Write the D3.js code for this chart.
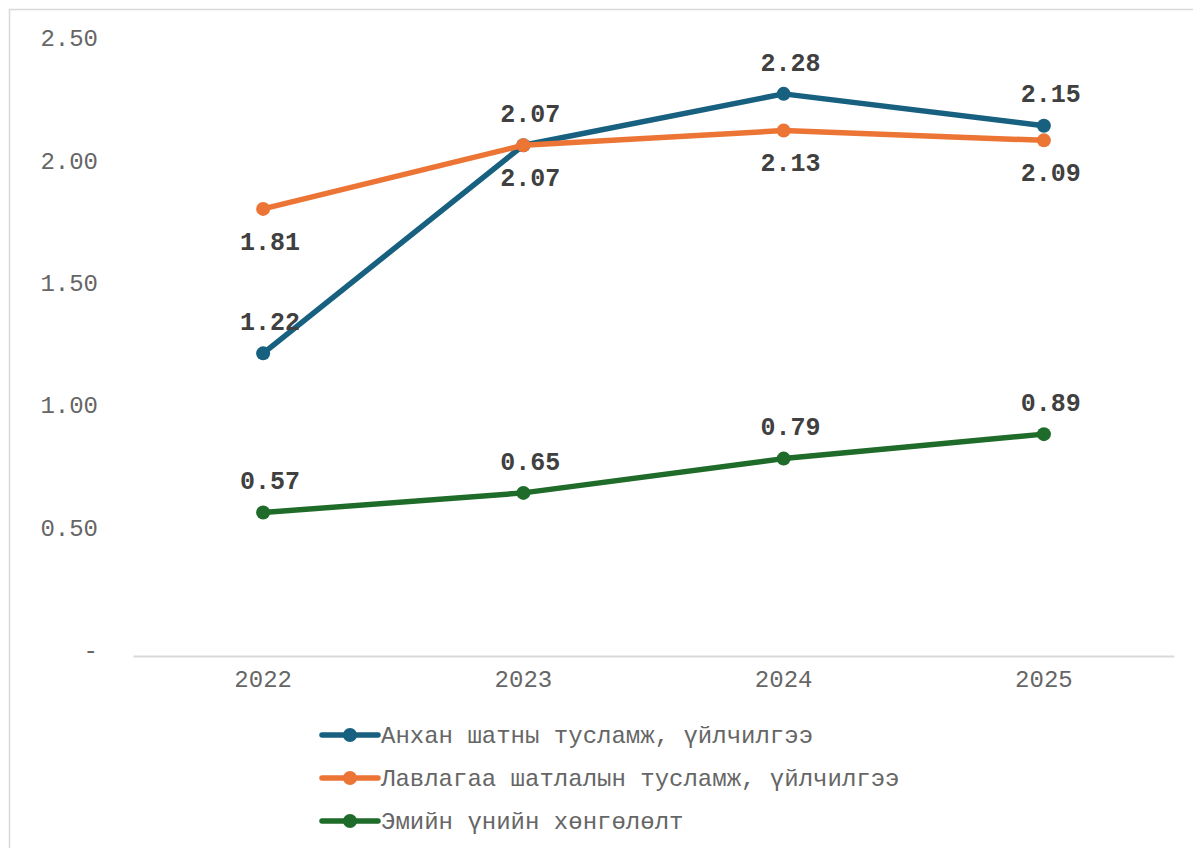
<!DOCTYPE html>
<html>
<head>
<meta charset="utf-8">
<script src="https://cdn.jsdelivr.net/npm/d3@7"></script>
<style>
  body { margin: 0; background: #fff; }
  svg { display: block; }
</style>
</head>
<body>
<div id="chart"></div>
<script>
// data
const years = ["2022", "2023", "2024", "2025"];
const seriesNames = [
  "Анхан шатны тусламж, үйлчилгээ",
  "Лавлагаа шатлалын тусламж, үйлчилгээ",
  "Эмийн үнийн хөнгөлөлт"
];
const primaryCare = [1.22, 2.07, 2.28, 2.15];
const referralCare = [1.81, 2.07, 2.13, 2.09];
const drugDiscount = [0.57, 0.65, 0.79, 0.89];
const yTicks = [0, 0.5, 1.0, 1.5, 2.0, 2.5];

const colors = ["#17607f", "#ec7434", "#1f6b2a"];
// label above (-1) or below (+1) the point
const labelSide = [-1, 1, -1];

const series = [primaryCare, referralCare, drugDiscount].map((vals, i) => ({
  name: seriesNames[i], color: colors[i], side: labelSide[i],
  values: vals.map((v, j) => ({ year: years[j], value: v }))
}));

const width = 1193, height = 848;
const svg = d3.select("#chart").append("svg")
  .attr("width", width)
  .attr("height", height);

// outer frame (only left and top edges are visible)
svg.append("rect")
  .attr("x", 9.5).attr("y", 9.5)
  .attr("width", 1200).attr("height", 900)
  .attr("fill", "none")
  .attr("stroke", "#d9d9d9")
  .attr("stroke-width", 1.5);

const x = d3.scaleBand().domain(years).range([133, 1174]);
const y = d3.scaleLinear().domain([0, 2.5]).range([652, 40]);

const font = "'Liberation Mono', 'Courier New', monospace";

// y axis labels (no line)
const yAxis = svg.append("g")
  .attr("transform", "translate(98,-2)")
  .call(d3.axisLeft(y).tickValues(yTicks).tickSize(0).tickPadding(0)
    .tickFormat(d => d === 0 ? "-" : d3.format(".2f")(d)));
yAxis.select(".domain").remove();
yAxis.selectAll("text")
  .attr("font-family", font)
  .attr("font-size", 24)
  .attr("fill", "#666");

// x axis
const xAxis = svg.append("g")
  .attr("transform", "translate(0,656)")
  .call(d3.axisBottom(x).tickSize(0).tickPadding(14));
xAxis.select(".domain").attr("stroke", "#d9d9d9").attr("stroke-width", 2);
xAxis.selectAll("text")
  .attr("font-family", font)
  .attr("font-size", 24)
  .attr("fill", "#666");

const cx = d => x(d.year) + x.bandwidth() / 2;
const line = d3.line().x(cx).y(d => y(d.value));

const g = svg.append("g");
series.forEach(s => {
  g.append("path")
    .datum(s.values)
    .attr("d", line)
    .attr("fill", "none")
    .attr("stroke", s.color)
    .attr("stroke-width", 5.5)
    .attr("stroke-linejoin", "round");
  g.selectAll(null)
    .data(s.values)
    .enter()
    .append("circle")
    .attr("cx", cx)
    .attr("cy", d => y(d.value))
    .attr("r", 7)
    .attr("fill", s.color);
});

// data labels on top
series.forEach(s => {
  svg.selectAll(null)
    .data(s.values)
    .enter()
    .append("text")
    .attr("x", d => cx(d) + 7)
    .attr("y", d => y(d.value) + s.side * 32)
    .attr("dy", "0.35em")
    .attr("text-anchor", "middle")
    .attr("font-family", font)
    .attr("font-size", 25)
    .attr("font-weight", "bold")
    .attr("fill", "#404040")
    .text(d => d3.format(".2f")(d.value));
});

// legend
const legend = svg.append("g").attr("transform", "translate(322,735)");
series.forEach((s, i) => {
  const row = legend.append("g").attr("transform", `translate(0,${i * 43})`);
  row.append("line")
    .attr("x1", 0).attr("x2", 56)
    .attr("stroke", s.color)
    .attr("stroke-width", 5.5)
    .attr("stroke-linecap", "round");
  row.append("circle").attr("cx", 28).attr("r", 7).attr("fill", s.color);
  row.append("text")
    .attr("x", 59)
    .attr("dy", "0.35em")
    .attr("font-family", font)
    .attr("font-size", 24)
    .attr("fill", "#666")
    .text(s.name);
});
</script>
</body>
</html>
